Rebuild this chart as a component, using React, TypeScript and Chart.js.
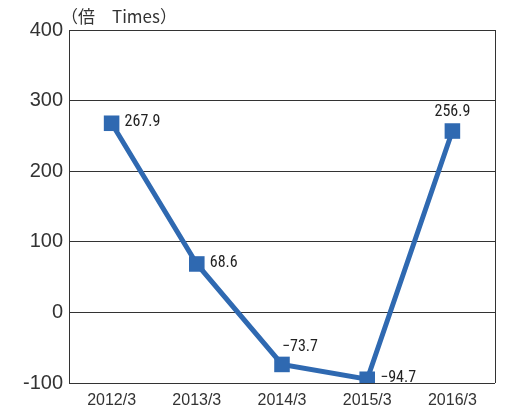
import React, { useEffect, useRef } from "react";
import { Chart, registerables } from "chart.js";

Chart.register(...registerables);

const categories = ["2012/3", "2013/3", "2014/3", "2015/3", "2016/3"];
const values = [267.9, 68.6, -73.7, -94.7, 256.9];
const labelPlacement = ["right", "right", "aboveRight", "right", "above"];
const unitTitle = "（倍　Times）";

const BLUE = "#2f69b1";
const TEXT = "#333333";

function fmt(v: number) {
  const s = Math.abs(v).toFixed(1);
  return v < 0 ? "\u2212" + s : s;
}

const framePlugin = {
  id: "frameAndLabels",
  afterDraw(chart: any) {
    const { ctx, chartArea } = chart;
    ctx.save();
    ctx.strokeStyle = "#333";
    ctx.lineWidth = 1;
    ctx.beginPath();
    ctx.moveTo(Math.round(chartArea.right) + 0.5, chartArea.top);
    ctx.lineTo(Math.round(chartArea.right) + 0.5, chartArea.bottom);
    ctx.stroke();
    ctx.fillStyle = TEXT;
    ctx.font = '17px "Noto Sans CJK JP", "Liberation Sans", sans-serif';
    ctx.textAlign = "left";
    ctx.textBaseline = "alphabetic";
    ctx.fillText(unitTitle, chartArea.left - 8, 23);
    const meta = chart.getDatasetMeta(0);
    ctx.font = '16px "Liberation Sans Narrow", "Roboto Condensed", "Liberation Sans", sans-serif';
    meta.data.forEach((pt: any, i: number) => {
      const txt = fmt(values[i]);
      const p = labelPlacement[i];
      ctx.fillStyle = "#222";
      if (p === "right") {
        ctx.textAlign = "left";
        ctx.textBaseline = "middle";
        ctx.fillText(txt, pt.x + 13, pt.y - 1);
      } else if (p === "above") {
        ctx.textAlign = "center";
        ctx.textBaseline = "middle";
        ctx.fillText(txt, pt.x, pt.y - 19);
      } else {
        ctx.textAlign = "left";
        ctx.textBaseline = "middle";
        ctx.fillText(txt, pt.x, pt.y - 17);
      }
    });
    ctx.restore();
  },
};

export default function App() {
  const ref = useRef<HTMLCanvasElement>(null);
  useEffect(() => {
    if (!ref.current) return;
    const chart = new Chart(ref.current, {
      type: "line",
      data: {
        labels: categories,
        datasets: [
          {
            data: values,
            borderColor: BLUE,
            backgroundColor: BLUE,
            borderWidth: 5,
            pointStyle: "rect",
            pointRadius: 11,
            pointHoverRadius: 11,
            pointBorderWidth: 0,
            tension: 0,
          },
        ],
      },
      options: {
        animation: false,
        responsive: false,
        maintainAspectRatio: false,
        layout: { padding: { top: 30, right: 9, left: 0, bottom: 0 } },
        plugins: { legend: { display: false }, tooltip: { enabled: false } },
        scales: {
          x: {
            offset: true,
            grid: { display: false, drawTicks: false },
            border: { display: false },
            ticks: {
              color: TEXT,
              font: { family: '"Liberation Sans", Arial, sans-serif', size: 16 },
              padding: 8,
              maxRotation: 0,
            },
            afterFit(scale: any) {
              scale.height = 35;
            },
          },
          y: {
            min: -100,
            max: 400,
            grid: { color: "#333", lineWidth: 1, drawTicks: false },
            border: { display: true, color: "#333", width: 1 },
            ticks: {
              stepSize: 100,
              color: TEXT,
              font: { family: '"Liberation Sans", Arial, sans-serif', size: 20 },
              padding: 6,
            },
            afterFit(scale: any) {
              scale.width = 69;
            },
          },
        },
      },
      plugins: [framePlugin],
    });
    return () => chart.destroy();
  }, []);
  return (
    <div style={{ position: "fixed", left: 0, top: 0, width: 506, height: 418, background: "#fff" }}>
      <canvas ref={ref} width={506} height={418} />
    </div>
  );
}
